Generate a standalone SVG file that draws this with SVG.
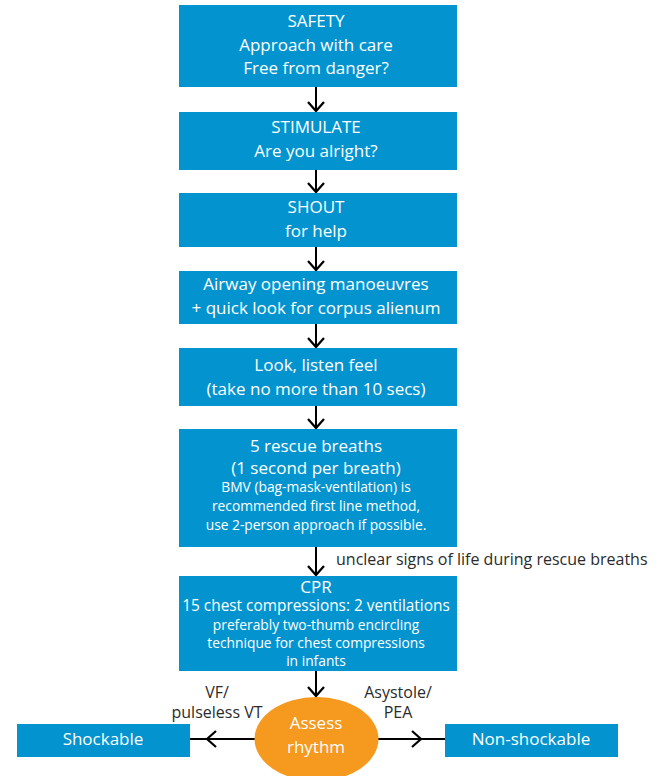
<svg xmlns="http://www.w3.org/2000/svg" width="661" height="776" viewBox="0 0 661 776">
<style>
.box{fill:#0394CF}
.t{font-family:"Open Sans","Liberation Sans",sans-serif;font-size:17px;fill:#fff;text-anchor:middle}
.s{font-size:13.8px}
.lbl{font-family:"Open Sans","Liberation Sans",sans-serif;font-size:16px;fill:#2b2b2b}
.c{text-anchor:middle}
.ln{fill:none;stroke:#000;stroke-width:2}
</style>
<defs>
<marker id="ah" markerUnits="userSpaceOnUse" markerWidth="22" markerHeight="22" viewBox="-11 -11 22 22" refX="0" refY="0" orient="auto">
<path d="M-9,-8 L0,0 L-9,8" fill="none" stroke="#000" stroke-width="2.2"/>
</marker>
</defs>
<rect width="661" height="776" fill="#fff"/>
<g id="connectors">
<path class="ln" d="M316,87 L316,111" marker-end="url(#ah)"/>
<path class="ln" d="M316,170 L316,192" marker-end="url(#ah)"/>
<path class="ln" d="M316,247 L316,270" marker-end="url(#ah)"/>
<path class="ln" d="M316,324 L316,347" marker-end="url(#ah)"/>
<path class="ln" d="M316,406 L316,428" marker-end="url(#ah)"/>
<path class="ln" d="M316,547 L316,575" marker-end="url(#ah)"/>
<path class="ln" d="M316,671 L316,696" marker-end="url(#ah)"/>
<path class="ln" d="M255,739 L190,739"/>
<path class="ln" d="M255,739 L207,739" marker-end="url(#ah)"/>
<path class="ln" d="M378,739 L445,739"/>
<path class="ln" d="M378,739 L421,739" marker-end="url(#ah)"/>
<text class="lbl" x="336" y="565">unclear signs of life during rescue breaths</text>
<text class="lbl c" x="217" y="698">VF/</text>
<text class="lbl c" x="217" y="718">pulseless VT</text>
<text class="lbl c" x="398" y="698">Asystole/</text>
<text class="lbl c" x="398" y="718">PEA</text>
</g>
<g id="safety">
<rect class="box" x="179" y="5" width="278" height="82"/>
<text class="t" x="316" y="27">SAFETY</text>
<text class="t" x="316" y="51">Approach with care</text>
<text class="t" x="316" y="74">Free from danger?</text>
</g>
<g id="stimulate">
<rect class="box" x="179" y="112" width="278" height="58"/>
<text class="t" x="316" y="133">STIMULATE</text>
<text class="t" x="316" y="157">Are you alright?</text>
</g>
<g id="shout">
<rect class="box" x="179" y="193" width="278" height="54"/>
<text class="t" x="316" y="213">SHOUT</text>
<text class="t" x="316" y="237">for help</text>
</g>
<g id="airway">
<rect class="box" x="179" y="271" width="278" height="53"/>
<text class="t" x="316" y="290">Airway opening manoeuvres</text>
<text class="t" x="316" y="314">+ quick look for corpus alienum</text>
</g>
<g id="look">
<rect class="box" x="179" y="348" width="278" height="58"/>
<text class="t" x="316" y="371">Look, listen feel</text>
<text class="t" x="316" y="395">(take no more than 10 secs)</text>
</g>
<g id="rescue">
<rect class="box" x="179" y="429" width="278" height="118"/>
<text class="t" x="316" y="452">5 rescue breaths</text>
<text class="t" x="316" y="474">(1 second per breath)</text>
<text class="t s" x="316" y="492">BMV (bag-mask-ventilation) is</text>
<text class="t s" x="316" y="511">recommended first line method,</text>
<text class="t s" x="316" y="530">use 2-person approach if possible.</text>
</g>
<g id="cpr">
<rect class="box" x="179" y="576" width="278" height="95"/>
<text class="t" x="316" y="593">CPR</text>
<text class="t" x="316" y="611" style="font-size:15.4px">15 chest compressions: 2 ventilations</text>
<text class="t s" x="316" y="630">preferably two-thumb encircling</text>
<text class="t s" x="316" y="648">technique for chest compressions</text>
<text class="t s" x="316" y="666">in infants</text>
</g>
<g id="assess">
<ellipse cx="316.5" cy="739" rx="62" ry="42" fill="#F5991F"/>
<text class="t" x="316" y="729">Assess</text>
<text class="t" x="316" y="753">rhythm</text>
</g>
<g id="shockable">
<rect class="box" x="17" y="724" width="173" height="33"/>
<text class="t" x="103" y="745">Shockable</text>
</g>
<g id="nonshockable">
<rect class="box" x="445" y="724" width="173" height="33"/>
<text class="t" x="531" y="745">Non-shockable</text>
</g>
</svg>
